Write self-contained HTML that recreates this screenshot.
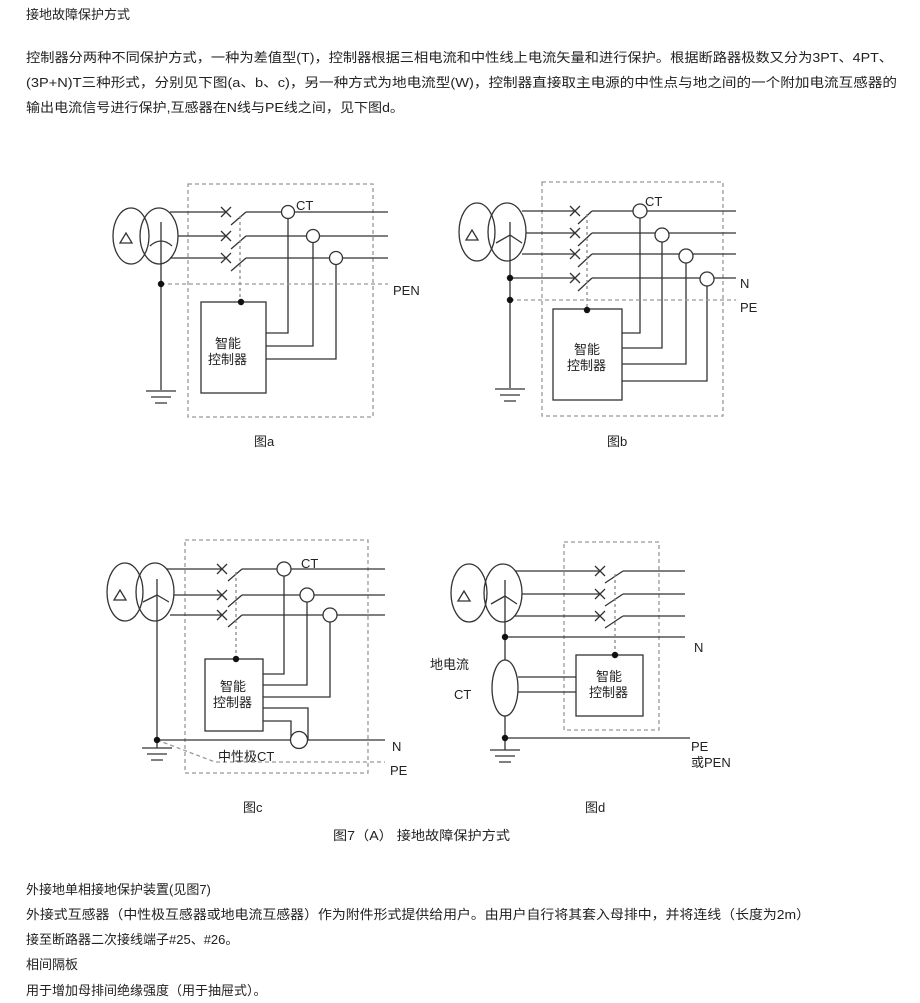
<!DOCTYPE html>
<html><head><meta charset="utf-8"><style>
html,body{margin:0;padding:0;background:#fff;}
svg{display:block;font-family:"Liberation Sans","Noto Sans CJK SC",sans-serif;}
</style></head><body>
<svg width="920" height="1003" viewBox="0 0 920 1003" xmlns="http://www.w3.org/2000/svg">
<g fill="#222" font-size="13">
<text x="26" y="19">接地故障保护方式</text>
<text x="26" y="62" textLength="867" lengthAdjust="spacingAndGlyphs">控制器分两种不同保护方式，一种为差值型(T)，控制器根据三相电流和中性线上电流矢量和进行保护。根据断路器极数又分为3PT、4PT、</text>
<text x="26" y="87" textLength="871" lengthAdjust="spacingAndGlyphs">(3P+N)T三种形式，分别见下图(a、b、c)，另一种方式为地电流型(W)，控制器直接取主电源的中性点与地之间的一个附加电流互感器的</text>
<text x="26" y="112" textLength="378" lengthAdjust="spacingAndGlyphs">输出电流信号进行保护,互感器在N线与PE线之间，见下图d。</text>
<text x="333" y="840" textLength="177" lengthAdjust="spacingAndGlyphs">图7（A） 接地故障保护方式</text>
<text x="26" y="894">外接地单相接地保护装置(见图7)</text>
<text x="26" y="919" textLength="784" lengthAdjust="spacingAndGlyphs">外接式互感器（中性极互感器或地电流互感器）作为附件形式提供给用户。由用户自行将其套入母排中，并将连线（长度为2m）</text>
<text x="26" y="944">接至断路器二次接线端子#25、#26。</text>
<text x="26" y="969">相间隔板</text>
<text x="26" y="995">用于增加母排间绝缘强度（用于抽屉式）。</text>
</g>

<g stroke="#333" stroke-width="1.3" fill="none">
<!-- ===== Diagram a ===== -->
<rect x="188" y="184" width="185" height="233" stroke="#999" stroke-dasharray="4,3"/>
<ellipse cx="131" cy="236" rx="18" ry="28"/>
<ellipse cx="159" cy="236" rx="19" ry="28"/>
<path d="M120 243 L126 233 L132 243 Z"/>
<path d="M161 222 V283 M150 246 Q161 236 172 246"/>
<path d="M170 212 H226 M178 236 H226 M170 258 H226"/>
<path d="M221 207 L231 217 M231 207 L221 217 M221 231 L231 241 M231 231 L221 241 M221 253 L231 263 M231 253 L221 263"/>
<path d="M231 225 L246 212 M231 249 L246 236 M231 271 L246 258"/>
<path d="M246 212 H281.5 M294.5 212 H388 M246 236 H306.5 M319.5 236 H388 M246 258 H329.5 M342.5 258 H388"/>
<circle cx="288" cy="212" r="6.5"/><circle cx="313" cy="236" r="6.5"/><circle cx="336" cy="258" r="6.5"/>
<path d="M288 218.5 V333 H266 M313 242.5 V346 H266 M336 264.5 V359 H266"/>
<rect x="201" y="302" width="65" height="91"/>
<path d="M240 216 V302" stroke="#888" stroke-dasharray="3,3"/>
<path d="M161 284 H388" stroke="#999" stroke-dasharray="4,3"/>
<path d="M161 283 V390 M146 391 H176 M151 397 H171 M155 403 H167"/>

<!-- ===== Diagram b ===== -->
<rect x="542" y="182" width="181" height="234" stroke="#999" stroke-dasharray="4,3"/>
<ellipse cx="477" cy="232" rx="18" ry="29"/>
<ellipse cx="507" cy="232" rx="19" ry="29"/>
<path d="M466 240 L472 230 L478 240 Z"/>
<path d="M510 222 V388 M510 235 L496 243 M510 235 L522 243"/>
<path d="M522 211 H575 M526 233 H575 M522 254 H575 M510 278 H575"/>
<path d="M570 206 L580 216 M580 206 L570 216 M570 228 L580 238 M580 228 L570 238 M570 249 L580 259 M580 249 L570 259 M570 273 L580 283 M580 273 L570 283"/>
<path d="M578 224 L592 211 M578 246 L592 233 M578 267 L592 254 M578 291 L592 278"/>
<path d="M592 211 H633 M647 211 H736 M592 233 H655 M669 233 H736 M592 254 H679 M693 254 H736 M592 278 H700 M714 278 H736"/>
<circle cx="640" cy="211" r="7"/><circle cx="662" cy="235" r="7"/><circle cx="686" cy="256" r="7"/><circle cx="707" cy="279" r="7"/>
<path d="M640 218 V333 H622 M662 242 V348 H622 M686 263 V364 H622 M707 286 V381 H622"/>
<rect x="553" y="309" width="69" height="91"/>
<path d="M587 214 V309" stroke="#888" stroke-dasharray="3,3"/>
<path d="M510 300 H736" stroke="#999" stroke-dasharray="4,3"/>
<path d="M495 389 H525 M500 395 H520 M504 401 H516"/>

<!-- ===== Diagram c ===== -->
<rect x="185" y="540" width="183" height="233" stroke="#999" stroke-dasharray="4,3"/>
<ellipse cx="125" cy="592" rx="18" ry="29"/>
<ellipse cx="155" cy="592" rx="19" ry="29"/>
<path d="M114 600 L120 590 L126 600 Z"/>
<path d="M157 579 V740 M157 595 L143 602 M157 595 L169 602"/>
<path d="M166 569 H222 M174 595 H222 M170 615 H222"/>
<path d="M217 564 L227 574 M227 564 L217 574 M217 590 L227 600 M227 590 L217 600 M217 610 L227 620 M227 610 L217 620"/>
<path d="M228 581 L242 569 M228 607 L242 595 M228 627 L242 615"/>
<path d="M242 569 H277 M291 569 H385 M242 595 H300 M314 595 H385 M242 615 H323 M337 615 H385"/>
<circle cx="284" cy="569" r="7"/><circle cx="307" cy="595" r="7"/><circle cx="330" cy="615" r="7"/>
<path d="M284 576 V674 H263 M307 602 V685 H263 M330 622 V697 H263"/>
<rect x="205" y="659" width="58" height="72"/>
<path d="M263 708 H308 V740 M263 721 H291 V740"/>
<circle cx="299" cy="740" r="8.5" fill="#fff"/>
<path d="M157 740 H290.5 M307.5 740 H385"/>
<path d="M236 572 V659" stroke="#888" stroke-dasharray="3,3"/>
<path d="M157 740 L215 762 H385" stroke="#999" stroke-dasharray="4,3"/>
<path d="M157 740 V748 M142 748 H172 M147 754 H167 M151 760 H163"/>

<!-- ===== Diagram d ===== -->
<rect x="564" y="542" width="95" height="188" stroke="#999" stroke-dasharray="4,3"/>
<ellipse cx="469" cy="593" rx="18" ry="29"/>
<ellipse cx="503" cy="593" rx="19" ry="29"/>
<path d="M458 601 L464 591 L470 601 Z"/>
<path d="M505 580 V660 M505 716 V750 M505 596 L491 604 M505 596 L517 604"/>
<path d="M515 571 H600 M522 594 H600 M515 616 H600"/>
<path d="M595 566 L605 576 M605 566 L595 576 M595 589 L605 599 M605 589 L595 599 M595 611 L605 621 M605 611 L595 621"/>
<path d="M605 583 L623 571 M605 606 L623 594 M605 628 L623 616"/>
<path d="M623 571 H685 M623 594 H685 M623 616 H685"/>
<path d="M505 637 H685 M505 738 H690"/>
<ellipse cx="505" cy="688" rx="13" ry="28"/>
<path d="M518 677 H576 M518 692 H576"/>
<rect x="576" y="655" width="67" height="61"/>
<path d="M615 574 V655" stroke="#888" stroke-dasharray="3,3"/>
<path d="M490 750 H520 M495 756 H515 M499 762 H511"/>
</g>

<g fill="#111">
<circle cx="161" cy="284" r="3.2"/><circle cx="241" cy="302" r="3.2"/>
<circle cx="510" cy="278" r="3.2"/><circle cx="510" cy="300" r="3.2"/><circle cx="587" cy="310" r="3.2"/>
<circle cx="157" cy="740" r="3.2"/><circle cx="236" cy="659" r="3.2"/>
<circle cx="505" cy="637" r="3.2"/><circle cx="505" cy="738" r="3.2"/><circle cx="615" cy="655" r="3.2"/>
</g>

<g fill="#222" font-size="13">
<text x="296" y="210">CT</text>
<text x="393" y="295">PEN</text>
<text x="215" y="348">智能</text><text x="208" y="364">控制器</text>
<text x="254" y="446">图a</text>

<text x="645" y="206">CT</text>
<text x="740" y="288">N</text>
<text x="740" y="312">PE</text>
<text x="574" y="354">智能</text><text x="567" y="370">控制器</text>
<text x="607" y="446">图b</text>

<text x="301" y="568">CT</text>
<text x="220" y="691">智能</text><text x="213" y="707">控制器</text>
<text x="218" y="761">中性极CT</text>
<text x="392" y="751">N</text>
<text x="390" y="775">PE</text>
<text x="243" y="812">图c</text>

<text x="430" y="669">地电流</text>
<text x="454" y="699">CT</text>
<text x="596" y="681">智能</text><text x="589" y="697">控制器</text>
<text x="694" y="652">N</text>
<text x="691" y="751">PE</text>
<text x="691" y="767">或PEN</text>
<text x="585" y="812">图d</text>
</g>
</svg>
</body></html>
